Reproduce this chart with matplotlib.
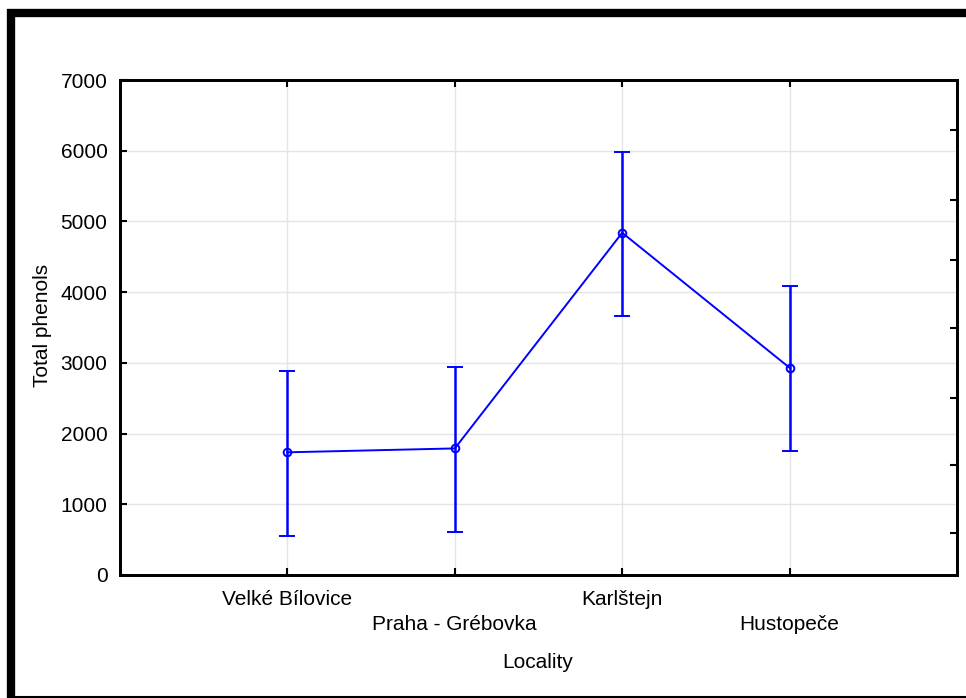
import numpy as np
import matplotlib
matplotlib.use("Agg")
import matplotlib.pyplot as plt
from matplotlib.lines import Line2D

plt.rcParams['font.family'] = ['Liberation Sans', 'DejaVu Sans']

localities = ["Velké Bílovice", "Praha - Grébovka", "Karlštejn", "Hustopeče"]
means = [1735, 1790, 4840, 2930]
lower = [550, 610, 3660, 1760]
upper = [2885, 2945, 5980, 4090]
yticks = [0, 1000, 2000, 3000, 4000, 5000, 6000, 7000]
right_ticks = [600, 1550, 2500, 3500, 4450, 5300, 6300]


def main():
    fig = plt.figure(figsize=(9.66, 6.98), dpi=100)
    ax = fig.add_axes([120/966, 1-575/698, (957-120)/966, (575-80)/698])

    x = np.arange(len(localities))
    m = np.array(means)
    yerr = [m - np.array(lower), np.array(upper) - m]

    ax.errorbar(x, m, yerr=yerr, color='#0000ff', lw=1.4, elinewidth=1.8,
                capsize=6, capthick=1.8, marker='o', ms=5.5, mfc='none',
                mew=1.4, zorder=3)

    ax.set_xlim(-1, 4)
    ax.set_ylim(0, 7000)
    ax.set_yticks(yticks)
    ax.set_yticklabels([str(v) for v in yticks], fontsize=15)
    ax.set_xticks(x)
    ax.set_xticklabels([])
    ax.grid(True, color='#e4e4e4', lw=1)
    ax.set_axisbelow(True)
    ax.tick_params(direction='in', length=5, width=1.5, top=True, right=False,
                   pad=9)

    # right-hand decorative ticks
    ax2 = ax.twinx()
    ax2.set_ylim(0, 7000)
    ax2.set_yticks(right_ticks)
    ax2.set_yticklabels([])
    ax2.tick_params(direction='in', length=5, width=1.5)

    for a in (ax, ax2):
        for s in a.spines.values():
            s.set_linewidth(2)

    # staggered category labels
    for i, name in enumerate(localities):
        yoff = -0.05 if i % 2 == 0 else -0.10
        ax.text(i, yoff, name, transform=ax.get_xaxis_transform(),
                ha='center', va='center', fontsize=15)

    fig.text(538/966, 1-663/698, "Locality", ha='center', va='center', fontsize=15)
    fig.text(42/966, 1-325/698, "Total phenols", ha='center', va='center',
             rotation=90, fontsize=15)

    # outer frame
    fig.add_artist(Line2D([7/966, 1], [1-13/698, 1-13/698], color='black',
                          lw=6, solid_capstyle='butt'))
    fig.add_artist(Line2D([11/966, 11/966], [1-9/698, 0], color='black',
                          lw=6, solid_capstyle='butt'))
    fig.add_artist(Line2D([7/966, 1], [1-696.5/698, 1-696.5/698], color='black',
                          lw=1.5, solid_capstyle='butt'))

    fig.savefig("out.png", dpi=100)


if __name__ == '__main__':
    main()
